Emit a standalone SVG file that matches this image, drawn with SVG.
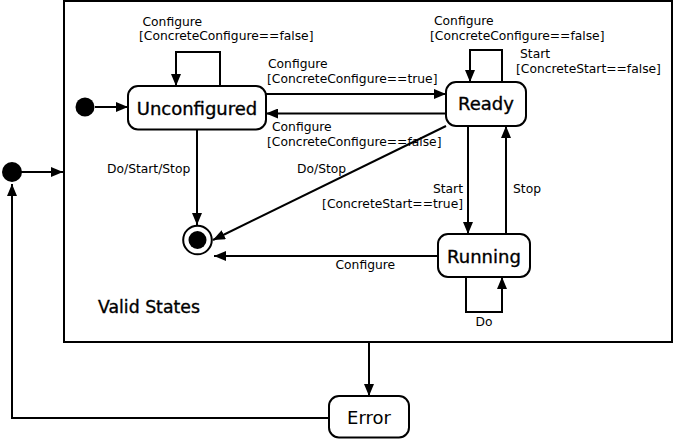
<svg xmlns="http://www.w3.org/2000/svg" width="674" height="439" viewBox="0 0 674 439">
<defs>
<marker id="arr" markerWidth="12" markerHeight="10" refX="12" refY="5" orient="auto" markerUnits="userSpaceOnUse">
<path d="M0,0 L12,5 L0,10 Z" fill="#000"/>
</marker>
<style>
.node{fill:#fff;stroke:#000;stroke-width:2}
.big{font-family:"DejaVu Sans",sans-serif;font-size:18px;fill:#000;stroke:#000;stroke-width:0.35;text-anchor:middle}
.plain{stroke:none}
.lbl{font-family:"DejaVu Sans",sans-serif;font-size:12.3px;fill:#000}
.edge{fill:none;stroke:#000;stroke-width:2;marker-end:url(#arr)}
</style>
</defs>
<rect width="674" height="439" fill="#fff"/>
<g id="valid-states">
<rect x="64" y="1" width="608" height="341" fill="#fff" stroke="#000" stroke-width="2"/>
<text x="98" y="313" font-family="DejaVu Sans, sans-serif" font-size="17.3px" stroke="#000" stroke-width="0.35">Valid States</text>
</g>
<g id="outer-initial"><circle cx="12" cy="172" r="10" fill="#000"/></g>
<g id="inner-initial"><circle cx="85" cy="107" r="9.5" fill="#000"/></g>
<g id="final">
<circle cx="197.5" cy="240" r="14.3" fill="#fff" stroke="#000" stroke-width="2"/>
<circle cx="197.5" cy="240" r="9" fill="#000"/>
</g>
<g id="unconfigured">
<rect class="node" x="128" y="86" width="138" height="43.5" rx="10"/>
<text class="big" x="197" y="114.5">Unconfigured</text>
</g>
<g id="ready">
<rect class="node" x="446" y="82" width="80" height="44" rx="10"/>
<text class="big" x="486" y="110">Ready</text>
</g>
<g id="running">
<rect class="node" x="438" y="234" width="92" height="43" rx="10"/>
<text class="big" x="484" y="263">Running</text>
</g>
<g id="error">
<rect class="node" x="329" y="396" width="80" height="41.5" rx="10"/>
<text class="big plain" x="369" y="424">Error</text>
</g>
<g id="connectors">
<path class="edge" d="M21,172 L63,172"/>
<path class="edge" d="M329,418 L12,418 L12,184"/>
<path class="edge" d="M369,343 L369,396"/>
<path class="edge" d="M95,107 L128,107"/>
<path class="edge" d="M220,86 L220,52 L176,52 L176,86"/>
<path class="edge" d="M266,94 L446,94"/>
<path class="edge" d="M446,113.5 L266,113.5"/>
<path class="edge" d="M502,82 L502,50 L470,50 L470,82"/>
<path class="edge" d="M197,130 L197,225"/>
<path class="edge" d="M446,126 L213,240"/>
<path class="edge" d="M438,256 L214,256"/>
<path class="edge" d="M468,126 L468,234"/>
<path class="edge" d="M506,234 L506,126"/>
<path class="edge" d="M466,277 L466,312 L502,312 L502,277"/>
</g>
<g id="labels">
<text class="lbl" x="142.5" y="26">Configure</text>
<text class="lbl" x="139" y="40">[ConcreteConfigure==false]</text>
<text class="lbl" x="268" y="68">Configure</text>
<text class="lbl" x="267" y="83">[ConcreteConfigure==true]</text>
<text class="lbl" x="272" y="130.5">Configure</text>
<text class="lbl" x="267" y="145.5">[ConcreteConfigure==false]</text>
<text class="lbl" x="434" y="25">Configure</text>
<text class="lbl" x="430" y="39.5">[ConcreteConfigure==false]</text>
<text class="lbl" x="520" y="58">Start</text>
<text class="lbl" x="516" y="72.5">[ConcreteStart==false]</text>
<text class="lbl" x="107" y="173">Do/Start/Stop</text>
<text class="lbl" x="297" y="173">Do/Stop</text>
<text class="lbl" x="463" y="193" text-anchor="end">Start</text>
<text class="lbl" x="463" y="208" text-anchor="end">[ConcreteStart==true]</text>
<text class="lbl" x="513" y="193">Stop</text>
<text class="lbl" x="335.5" y="268.5">Configure</text>
<text class="lbl" x="475.5" y="326">Do</text>
</g>
</svg>
